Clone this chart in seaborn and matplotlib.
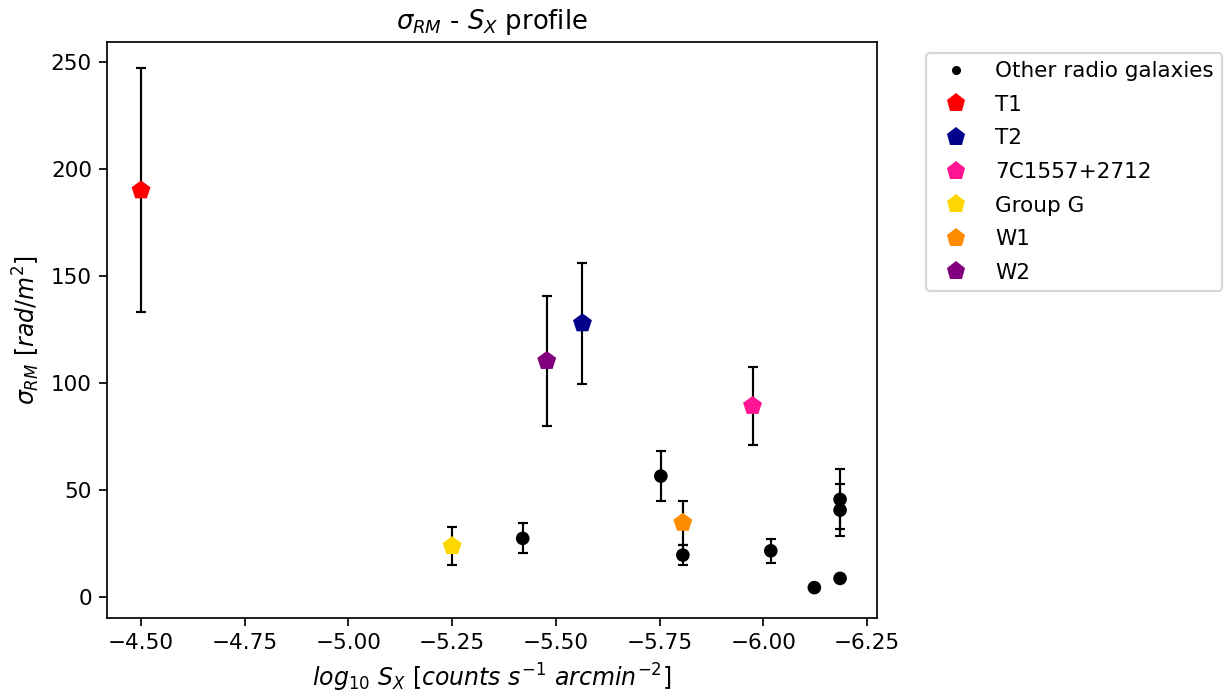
import numpy as np
import pandas as pd
import matplotlib
matplotlib.use("Agg")
import matplotlib.pyplot as plt
from matplotlib.lines import Line2D
import seaborn as sns

# Other radio galaxies
other_x = [-5.42, -5.753, -5.806, -6.018, -6.123, -6.185, -6.185, -6.185]
other_y = [27.4, 56.5, 19.6, 21.6, 4.4, 8.7, 45.6, 40.6]
other_err = [7.0, 11.6, 4.7, 5.5, np.nan, np.nan, 14.0, 12.0]

# Named sources
names = ["T1", "T2", "7C1557+2712", "Group G", "W1", "W2"]
src_x = [-4.5, -5.564, -5.974, -5.25, -5.806, -5.478]
src_y = [190.0, 127.9, 89.3, 23.8, 34.7, 110.3]
src_err = [57.0, 28.3, 18.3, 9.0, 10.3, 30.5]
src_colors = ["red", "darkblue", "deeppink", "gold", "darkorange", "purple"]

dpi = 155
fig = plt.figure(figsize=(1224 / dpi, 699 / dpi), dpi=dpi)
ax = fig.add_axes([107 / 1224, 1 - 618 / 699, (877 - 107) / 1224, (618 - 42) / 699])

other_df = pd.DataFrame({"x": other_x, "y": other_y, "err": other_err})
src_df = pd.DataFrame({"name": names, "x": src_x, "y": src_y, "err": src_err})

ax.errorbar(other_df["x"], other_df["y"], yerr=other_df["err"], fmt="none",
            ecolor="black", elinewidth=1, capsize=2.5, zorder=1)
ax.errorbar(src_df["x"], src_df["y"], yerr=src_df["err"], fmt="none",
            ecolor="black", elinewidth=1, capsize=2.5, zorder=1)

sns.scatterplot(data=other_df, x="x", y="y", color="black", marker="o", s=40,
                edgecolor="none", ax=ax, zorder=3, legend=False)
sns.scatterplot(data=src_df, x="x", y="y", hue="name", palette=dict(zip(names, src_colors)),
                marker="p", s=85, edgecolor="none", ax=ax, zorder=3, legend=False)

ax.set_xlim(-4.418, -6.274)
ax.set_ylim(-9.8, 259.3)
ax.set_title(r"$\sigma_{RM}$ - $S_X$ profile", fontsize=12)
ax.set_xlabel(r"$log_{10}\ S_X\ [counts\ s^{-1}\ arcmin^{-2}]$", fontsize=11)
ax.set_ylabel(r"$\sigma_{RM}\ [rad/m^2]$", fontsize=11)
ax.set_xticks([-4.5, -4.75, -5.0, -5.25, -5.5, -5.75, -6.0, -6.25])
ax.set_yticks([0, 50, 100, 150, 200, 250])

handles = [Line2D([], [], linestyle="none", marker="o", color="black", markersize=4.2,
                  markeredgewidth=0)]
for c in src_colors:
    handles.append(Line2D([], [], linestyle="none", marker="p", color=c, markersize=9,
                          markeredgewidth=0))
ax.legend(handles, ["Other radio galaxies"] + names, loc="upper left",
          bbox_to_anchor=(1.05, 1), fontsize=10, labelspacing=0.63)

fig.savefig("out.png", dpi=dpi)
